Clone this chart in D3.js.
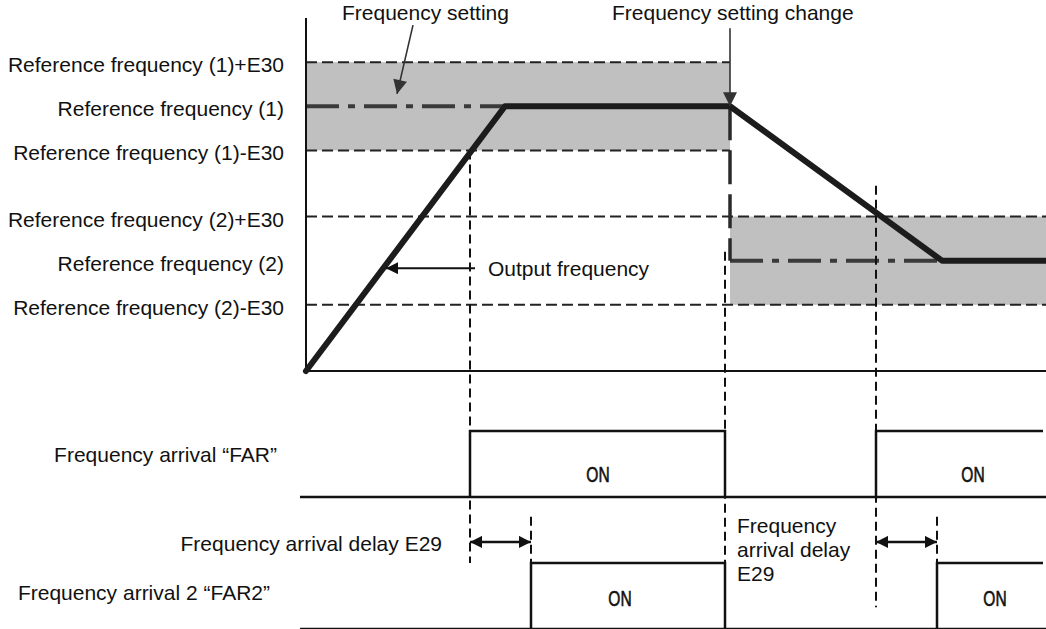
<!DOCTYPE html>
<html><head><meta charset="utf-8">
<script src="https://cdn.jsdelivr.net/npm/d3@7"></script>
<style>
body{margin:0;background:#fff}
svg{display:block}
text{font-family:"Liberation Sans",Arial,sans-serif;fill:#111;font-size:21px}
</style>
</head><body><svg id="c" width="1046" height="629"></svg>
<script>
// ---- data ----
const outputT = [0, 199, 424, 636, 740];
const outputF = [0, 60, 60, 25, 25];
const settingSpans = [[0, 424], [424, 740]];
const settingF = [60, 25];
const e30 = 10;
const refLevels = [70, 60, 50, 35, 25, 15];
const refLabels = ["Reference frequency (1)+E30", "Reference frequency (1)", "Reference frequency (1)-E30",
                   "Reference frequency (2)+E30", "Reference frequency (2)", "Reference frequency (2)-E30"];
const farPulses = [[164, 419], [570, 737]];
const far2Pulses = [[225, 419], [631, 737]];
const farOnT = [292, 667];
const far2OnT = [314, 689];
const guideT = [164, 419, 570];
const guideTopF = [50, 27, 42];
const guideBottomS = [-1, -2, -1.67];
const delaySpans = [[164, 225], [570, 631]];
const signalLabels = ["Frequency arrival \u201cFAR\u201d", "Frequency arrival delay E29", "Frequency arrival 2 \u201cFAR2\u201d"];
const onText = "ON";

// ---- scales ----
const x = d3.scaleLinear().domain([0, 740]).range([306, 1046]);
const y = d3.scaleLinear().domain([0, 80]).range([371, 18]);
const yS = d3.scaleLinear().domain([0, 1]).range([497, 431]);

const svg = d3.select("#c");
const defs = svg.append("defs");
function marker(id, w, h, col){
  defs.append("marker").attr("id", id).attr("viewBox", "0 0 10 10")
    .attr("refX", 10).attr("refY", 5).attr("markerWidth", w).attr("markerHeight", h)
    .attr("markerUnits", "userSpaceOnUse").attr("orient", "auto-start-reverse")
    .append("path").attr("d", "M0,0L10,5L0,10Z").attr("fill", col);
}
marker("ah", 15, 12, "#111");
marker("ahg", 15, 14, "#333");

const line = d3.line().x(d => x(d[0])).y(d => y(d[1]));
const lineS = d3.line().x(d => x(d[0])).y(d => yS(d[1]));

// gray bands
svg.selectAll("rect.band").data(settingF).join("rect")
  .attr("x", (d, i) => x(settingSpans[i][0])).attr("width", (d, i) => x(settingSpans[i][1]) - x(settingSpans[i][0]))
  .attr("y", d => y(d + e30)).attr("height", d => y(d - e30) - y(d + e30))
  .attr("fill", "#c0c0c0");

// band dashed lines
settingF.forEach((f, i) => {
  [f + e30, f - e30].forEach(v => {
    svg.append("path").attr("d", line([[0, v], [settingSpans[i][1], v]]))
      .attr("stroke", "#222").attr("stroke-width", 2).attr("stroke-dasharray", "11,5").attr("fill", "none");
  });
});

// dash-dot setting lines
const dashDot = [[settingSpans[0][0], outputT[1]], [settingSpans[1][0], outputT[3]]];
settingF.forEach((f, i) => {
  svg.append("path").attr("d", line([[dashDot[i][0], f], [dashDot[i][1], f]]))
    .attr("stroke", "#3a3a3a").attr("stroke-width", 4).attr("stroke-dasharray", "33,9,7,9").attr("fill", "none");
});
// setting step (thick dashed)
svg.append("path").attr("d", line([[settingSpans[1][0], settingF[0]], [settingSpans[1][0], settingF[1]]]))
  .attr("stroke", "#2a2a2a").attr("stroke-width", 3.5).attr("stroke-dasharray", "34,10").attr("fill", "none");

// guide dashed verticals
guideT.forEach((t, i) => {
  svg.append("line").attr("x1", x(t)).attr("x2", x(t)).attr("y1", y(guideTopF[i])).attr("y2", yS(guideBottomS[i]))
    .attr("stroke", "#111").attr("stroke-width", 2).attr("stroke-dasharray", "9,5");
});
delaySpans.forEach(d => {
  svg.append("line").attr("x1", x(d[1])).attr("x2", x(d[1])).attr("y1", yS(-0.3)).attr("y2", yS(-1))
    .attr("stroke", "#111").attr("stroke-width", 2).attr("stroke-dasharray", "9,5");
});

// axes
svg.append("path").attr("d", line([[0, 80], [0, 0], [740, 0]])).attr("stroke", "#111").attr("stroke-width", 2).attr("fill", "none");

// output frequency
svg.append("path").attr("d", line(outputT.map((t, i) => [t, outputF[i]])))
  .attr("stroke", "#1c1c1c").attr("stroke-width", 6).attr("fill", "none")
  .attr("stroke-linejoin", "round").attr("stroke-linecap", "round");

// reference labels
svg.selectAll("text.ref").data(refLevels).join("text")
  .attr("x", 284).attr("y", d => y(d) + 10).attr("text-anchor", "end")
  .text((d, i) => refLabels[i]);

// top annotations
svg.append("text").attr("x", 342).attr("y", 20).text("Frequency setting");
svg.append("path").attr("d", line([[107, 78.4], [91, 62.8]])).attr("stroke", "#333").attr("stroke-width", 1.6)
  .attr("marker-end", "url(#ahg)");
svg.append("text").attr("x", 612).attr("y", 20).text("Frequency setting change");
svg.append("path").attr("d", line([[settingSpans[1][0], 77.7], [settingSpans[1][0], settingF[0]]])).attr("stroke", "#333").attr("stroke-width", 1.6)
  .attr("marker-end", "url(#ahg)");
svg.append("path").attr("d", line([[169, 23.3], [80, 23.3]])).attr("stroke", "#111").attr("stroke-width", 2)
  .attr("marker-end", "url(#ah)");
svg.append("text").attr("x", x(182)).attr("y", 276).text("Output frequency");

// lower signals
[0, -2].forEach(off => {
  svg.append("path").attr("d", lineS([[-6, off], [740, off]])).attr("stroke", "#111").attr("stroke-width", 2.5).attr("fill", "none");
});
function pulses(data, off){
  data.forEach(p => {
    const pts = [[p[0], off], [p[0], off + 1], [p[1], off + 1]];
    if (p[1] < 735) pts.push([p[1], off]);
    svg.append("path").attr("d", lineS(pts)).attr("stroke", "#111").attr("stroke-width", 2.5).attr("fill", "none");
  });
}
pulses(farPulses, 0);
pulses(far2Pulses, -2);
function onLabels(ts, base){
  ts.forEach(t => svg.append("text")
    .attr("transform", `translate(${x(t)},${base}) scale(0.74,1.05)`)
    .attr("text-anchor", "middle")
    .attr("stroke", "#111").attr("stroke-width", 0.6)
    .style("font-size", "21px")
    .text(onText));
}
onLabels(farOnT, 482);
onLabels(far2OnT, 606);

delaySpans.forEach(d => {
  svg.append("path").attr("d", lineS([[d[0], -0.68], [d[1], -0.68]])).attr("stroke", "#111").attr("stroke-width", 2.5)
    .attr("marker-start", "url(#ah)").attr("marker-end", "url(#ah)");
});

svg.append("text").attr("x", 277).attr("y", 462).attr("text-anchor", "end").text(signalLabels[0]);
svg.append("text").attr("x", 442).attr("y", 551).attr("text-anchor", "end").text(signalLabels[1]);
svg.append("text").attr("x", 270).attr("y", 600).attr("text-anchor", "end").text(signalLabels[2]);
["Frequency", "arrival delay", "E29"].forEach((s, i) => {
  svg.append("text").attr("x", 737).attr("y", 533 + i * 24).text(s);
});
</script>
</body></html>
